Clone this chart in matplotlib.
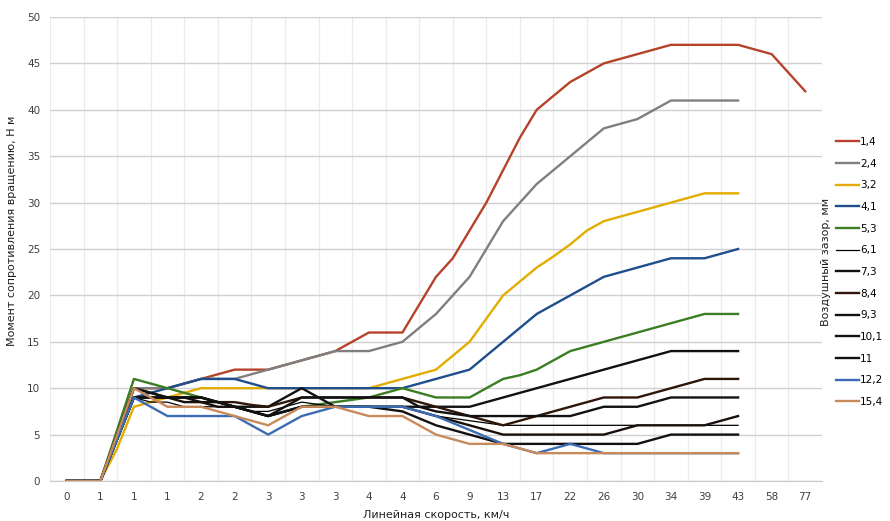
import matplotlib
matplotlib.use("Agg")
import matplotlib.pyplot as plt
import numpy as np

# x categories (every second point carries a label)
speed_labels = ["0", "1", "1", "1", "2", "2", "3", "3", "3", "4", "4", "6",
                "9", "13", "17", "22", "26", "30", "34", "39", "43", "58", "77"]

gap_names = ["1,4", "2,4", "3,2", "4,1", "5,3", "6,1", "7,3", "8,4",
             "9,3", "10,1", "11", "12,2", "15,4"]

# torque values, N*m, one value per half-category step
s_1_4 = [0, 0, 0, 5, 10, 10, 10, 10.5, 11, 11.5, 12, 12, 12, 12.5, 13, 13.5, 14, 15, 16, 16, 16,
         19, 22, 24, 27, 30, 33.5, 37, 40, 41.5, 43, 44, 45, 45.5, 46, 46.5, 47, 47, 47, 47, 47,
         46.5, 46, 44, 42]
s_2_4 = [0, 0, 0, 5, 10, 10, 10, 10.5, 11, 11, 11, 11.5, 12, 12.5, 13, 13.5, 14, 14, 14, 14.5, 15,
         16.5, 18, 20, 22, 25, 28, 30, 32, 33.5, 35, 36.5, 38, 38.5, 39, 40, 41, 41, 41, 41, 41]
s_3_2 = [0, 0, 0, 3.5, 8, 8.5, 9, 9.5, 10, 10, 10, 10, 10, 10, 10, 10, 10, 10, 10, 10.5, 11,
         11.5, 12, 13.5, 15, 17.5, 20, 21.5, 23, 24.2, 25.5, 27, 28, 28.5, 29, 29.5, 30, 30.5, 31, 31, 31]
s_4_1 = [0, 0, 0, 4.5, 9, 9.5, 10, 10.5, 11, 11, 11, 10.5, 10, 10, 10, 10, 10, 10, 10, 10, 10,
         10.5, 11, 11.5, 12, 13.5, 15, 16.5, 18, 19, 20, 21, 22, 22.5, 23, 23.5, 24, 24, 24, 24.5, 25]
s_5_3 = [0, 0, 0, 5.5, 11, 10.5, 10, 9.5, 9, 8.5, 8, 7.5, 7, 7.5, 8, 8.25, 8.5, 8.75, 9, 9.5, 10,
         9.5, 9, 9, 9, 10, 11, 11.4, 12, 13, 14, 14.5, 15, 15.5, 16, 16.5, 17, 17.5, 18, 18, 18]
s_6_1 = [0, 0, 0, 4.5, 9, 8.5, 8.5, 8, 8, 8, 8, 7.5, 7.5, 8, 8.5, 8.25, 8, 8, 8, 8, 8,
         7.5, 7, 6.75, 6.5, 6.25, 6, 6, 6, 6, 6, 6, 6, 6, 6, 6, 6, 6, 6, 6, 6]
s_7_3 = [0, 0, 0, 4.5, 9, 9, 9, 9, 9, 8.5, 8, 8, 8, 9, 10, 9, 8, 8, 8, 8, 8,
         8, 8, 8, 8, 8.5, 9, 9.5, 10, 10.5, 11, 11.5, 12, 12.5, 13, 13.5, 14, 14, 14, 14, 14]
s_8_4 = [0, 0, 0, 5, 10, 9.5, 9, 9, 9, 8.5, 8.5, 8.2, 8, 8.5, 9, 9, 9, 9, 9, 9, 9,
         8.5, 8, 7.5, 7, 6.5, 6, 6.5, 7, 7.5, 8, 8.5, 9, 9, 9, 9.5, 10, 10.5, 11, 11, 11]
s_9_3 = [0, 0, 0, 5, 10, 9.5, 9, 9, 8.5, 8.5, 8, 7.5, 7, 8, 9, 9, 9, 9, 9, 9, 9,
         8, 7.5, 7.25, 7, 7, 7, 7, 7, 7, 7, 7.5, 8, 8, 8, 8.5, 9, 9, 9, 9, 9]
s_10_1 = [0, 0, 0, 4.5, 9, 9, 9, 8.5, 8.5, 8, 8, 7.5, 7, 7.5, 8, 8, 8, 8, 8, 8, 8,
          7.5, 7, 6.5, 6, 5.5, 5, 5, 5, 5, 5, 5, 5, 5.5, 6, 6, 6, 6, 6, 6.5, 7]
s_11 = [0, 0, 0, 4.5, 9, 9, 9, 9, 9, 8.5, 8, 7.5, 7, 7.5, 8, 8, 8, 8, 8, 7.75, 7.5,
        6.75, 6, 5.5, 5, 4.5, 4, 4, 4, 4, 4, 4, 4, 4, 4, 4.5, 5, 5, 5, 5, 5]
s_12_2 = [0, 0, 0, 4.5, 9, 8, 7, 7, 7, 7, 7, 6, 5, 6, 7, 7.5, 8, 8, 8, 8, 8,
          7.5, 7, 6.25, 5.5, 4.75, 4, 3.5, 3, 3.5, 4, 3.5, 3, 3, 3, 3, 3, 3, 3, 3, 3]
s_15_4 = [0, 0, 0, 5, 10, 9, 8, 8, 8, 7.5, 7, 6.5, 6, 7, 8, 8, 8, 7.5, 7, 7, 7,
          6, 5, 4.5, 4, 4, 4, 3.5, 3, 3, 3, 3, 3, 3, 3, 3, 3, 3, 3, 3, 3]

series = [s_1_4, s_2_4, s_3_2, s_4_1, s_5_3, s_6_1, s_7_3, s_8_4,
          s_9_3, s_10_1, s_11, s_12_2, s_15_4]
colors = ["#B5432A", "#7F7F7F", "#E3AC00", "#1F4E8C", "#3B7D23", "#000000", "#111111",
          "#2E1509", "#111111", "#1A0F0A", "#111111", "#3A6DB3", "#C98A5B"]
widths = [1.7] * 13
widths[5] = 0.9

fig = plt.figure(figsize=(8.9, 5.21), dpi=100)
ax = fig.add_axes([50 / 890, 1 - 481 / 521, 772 / 890, 464 / 521])

for name, vals, c, lw in zip(gap_names, series, colors, widths):
    ax.plot(np.arange(len(vals)), vals, color=c, lw=lw, label=name, solid_joinstyle="round")

n_cat = len(speed_labels)
ax.set_xlim(-1, 2 * n_cat - 1)
ax.set_ylim(0, 50)
ax.set_xticks(np.arange(0, 2 * n_cat, 2))
ax.set_xticklabels(speed_labels, fontsize=7.5, color="#404040")
ax.set_xticks(np.arange(-1, 2 * n_cat), minor=True)
ax.set_yticks(np.arange(0, 51, 5))
ax.tick_params(axis="y", labelsize=7.5, labelcolor="#404040", length=0, pad=7)
ax.tick_params(axis="x", which="both", length=0, pad=8)
ax.grid(axis="y", color="#cfcfcf", lw=1.0)
ax.grid(axis="x", which="minor", color="#ebebeb", lw=0.9)
ax.set_axisbelow(True)
for side in ["top", "right", "left"]:
    ax.spines[side].set_visible(False)
ax.spines["bottom"].set_color("#c8c8c8")

ax.set_xlabel("Линейная скорость, км/ч", fontsize=8, color="#202020", labelpad=6)
ax.set_ylabel("Момент сопротивления вращению, Н м", fontsize=8, color="#202020", labelpad=12)
ax.yaxis.set_label_coords(-0.043, 0.54)

ax.legend(loc="upper left", bbox_to_anchor=(836 / 890, 1 - 137 / 521),
          bbox_transform=fig.transFigure, frameon=False, fontsize=7.5,
          handlelength=2.2, handletextpad=0.1, labelspacing=1.12, borderpad=0,
          borderaxespad=0)
fig.text(826 / 890, 1 - 262 / 521, "Воздушный зазор, мм", rotation=90,
         fontsize=8, color="#202020", ha="center", va="center")

fig.savefig("out.png", dpi=100)
